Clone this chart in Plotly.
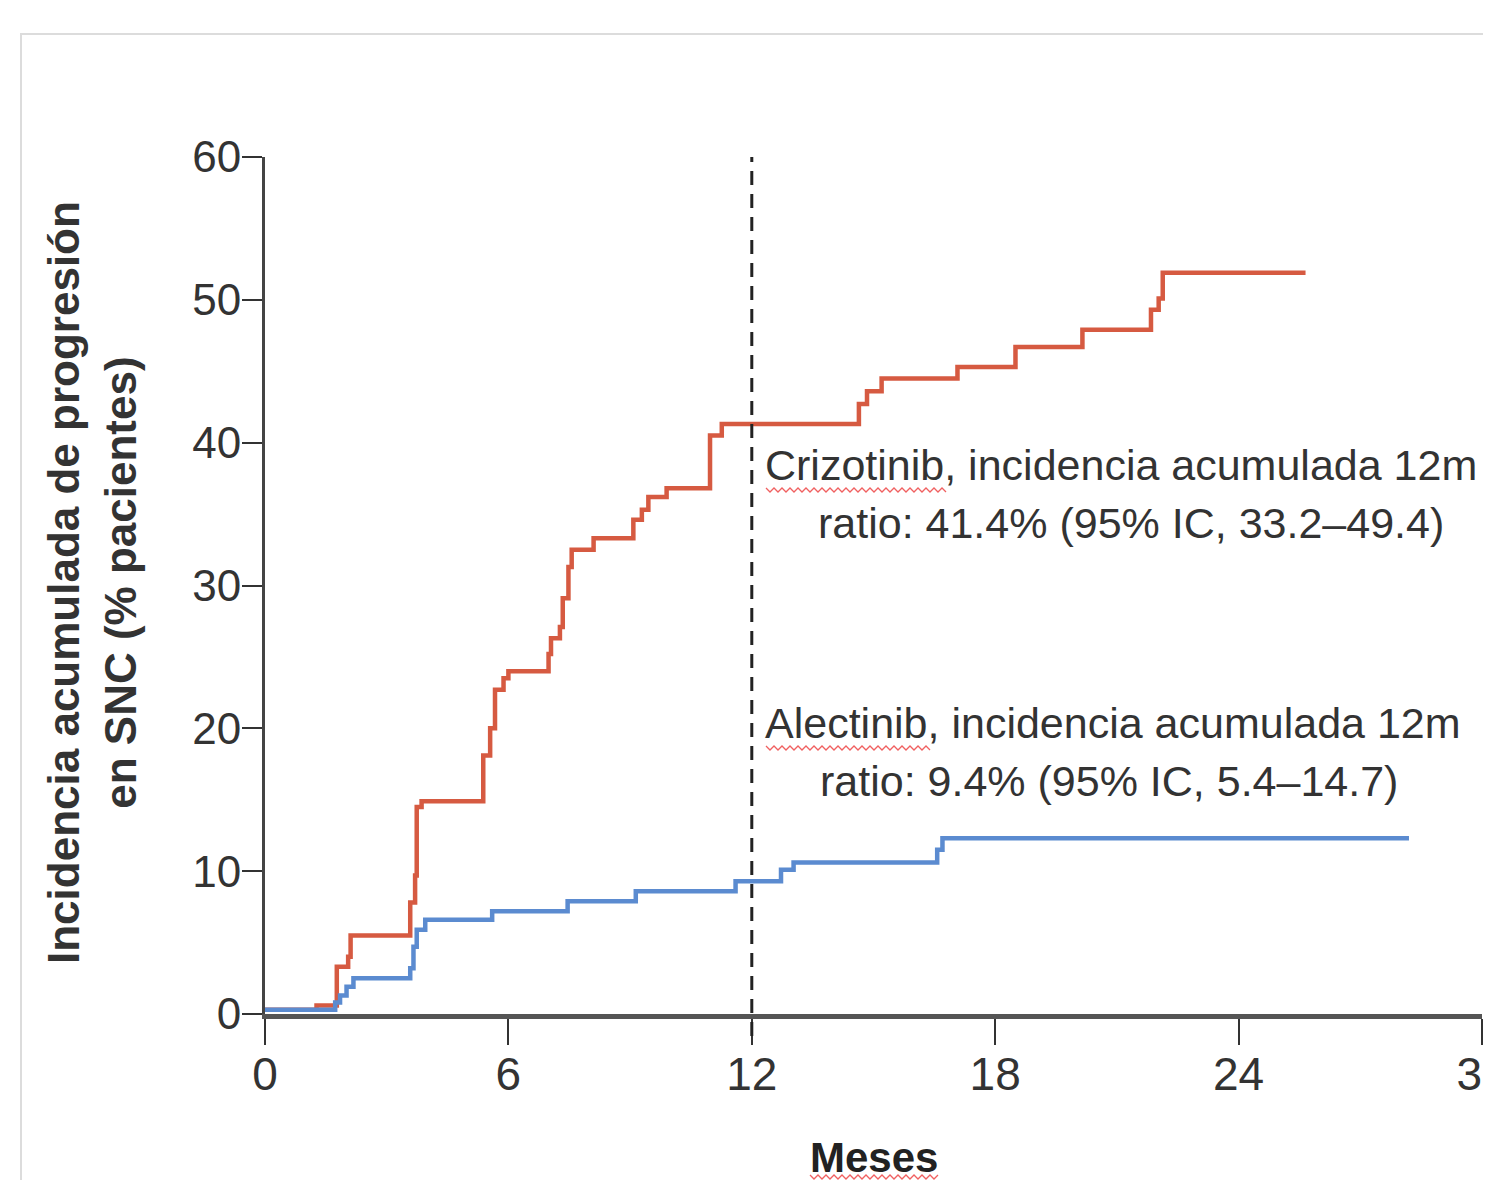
import plotly.graph_objects as go

# ---- data (months, cumulative incidence %) ----
crizo_months = [0, 1.27, 1.77, 2.05, 2.11, 3.58, 3.70, 3.74, 3.86, 5.38, 5.55, 5.67, 5.88, 6.00,
                6.99, 7.05, 7.27, 7.34, 7.48, 7.56, 8.10, 9.08, 9.29, 9.45, 9.90, 10.97, 11.26,
                14.64, 14.84, 15.20, 17.07, 18.50, 20.15, 21.84, 22.03, 22.13, 25.65]
crizo_pct = [0.3, 0.6, 3.3, 4.0, 5.5, 7.8, 9.7, 14.5, 14.9, 18.1, 20.0, 22.7, 23.5, 24.0,
             25.2, 26.3, 27.1, 29.1, 31.3, 32.5, 33.3, 34.6, 35.3, 36.2, 36.8, 40.5, 41.3,
             42.7, 43.6, 44.5, 45.3, 46.7, 47.9, 49.3, 50.1, 51.9, 51.9]

alec_months = [0, 1.73, 1.85, 2.01, 2.18, 3.58, 3.66, 3.74, 3.95, 5.60, 7.46, 9.14, 11.60,
               12.72, 13.03, 16.57, 16.70, 28.20]
alec_pct = [0.3, 0.8, 1.3, 1.9, 2.5, 3.2, 4.7, 5.9, 6.6, 7.2, 7.9, 8.6, 9.3,
            10.1, 10.6, 11.5, 12.3, 12.3]

x_ticks = [0, 6, 12, 18, 24, 30]
y_ticks = [0, 10, 20, 30, 40, 50, 60]
landmark_month = 12

crizo_label_1 = "Crizotinib, incidencia acumulada 12m"
crizo_label_2 = "ratio: 41.4% (95% IC, 33.2\u201349.4)"
alec_label_1 = "Alectinib, incidencia acumulada 12m"
alec_label_2 = "ratio: 9.4% (95% IC, 5.4\u201314.7)"
y_title = "Incidencia acumulada de progresión<br>en SNC (% pacientes)"
x_title = "Meses"

# ---- layout geometry (page pixels; the page body adds an 8px offset) ----
OFF = 8
W, H = 1491, 1180
PLOT_L, PLOT_R, PLOT_T, PLOT_B = 265, 1482, 157, 1014   # page pixel positions
L = PLOT_L - OFF
T = PLOT_T - OFF
R = W - (PLOT_R - OFF)
B = H - (PLOT_B - OFF)
PW = PLOT_R - PLOT_L
PH = PLOT_B - PLOT_T


def px(xp):
    return (xp - PLOT_L) / PW


def py(yp):
    return (PLOT_B - yp) / PH


FONT = "Liberation Sans, Arial, sans-serif"
RED = "#d65a41"
BLUE = "#5b8bd0"
TXT = "#333333"

fig = go.Figure()
fig.add_trace(go.Scatter(x=crizo_months, y=crizo_pct, mode="lines", line_shape="hv",
                         line=dict(color=RED, width=4.5), name="Crizotinib", showlegend=False))
fig.add_trace(go.Scatter(x=alec_months, y=alec_pct, mode="lines", line_shape="hv",
                         line=dict(color=BLUE, width=4.5), name="Alectinib", showlegend=False))

shapes = []
# outer light frame
shapes.append(dict(type="path", xref="paper", yref="paper",
                   path=f"M {px(21)},{py(1230)} L {px(21)},{py(34)} L {px(1530)},{py(34)}",
                   line=dict(color="#dcdcdc", width=2)))
# dashed landmark line
shapes.append(dict(type="line", xref="x", yref="paper", x0=landmark_month, x1=landmark_month,
                   y0=py(1036), y1=1.0, line=dict(color="#222222", width=3, dash="14px,9px")))


def squiggle(x0, x1, yc, amp=2.0, step=4.0):
    pts = []
    x = x0
    up = True
    while x <= x1:
        pts.append((x, yc - amp if up else yc + amp))
        up = not up
        x += step
    d = "M " + " L ".join(f"{px(a)},{py(b)}" for a, b in pts)
    return dict(type="path", xref="paper", yref="paper", path=d,
                line=dict(color="#f06060", width=1.3))


shapes.append(squiggle(766, 948, 490))
shapes.append(squiggle(766, 930, 748))
shapes.append(squiggle(810, 938, 1177))

annotations = []
txt_font = dict(family=FONT, size=43, color=TXT)
annotations.append(dict(x=px(1121), y=py(465), xref="paper", yref="paper", text=crizo_label_1,
                        showarrow=False, font=txt_font, xanchor="center", yanchor="middle"))
annotations.append(dict(x=px(1131), y=py(523), xref="paper", yref="paper", text=crizo_label_2,
                        showarrow=False, font=txt_font, xanchor="center", yanchor="middle"))
annotations.append(dict(x=px(1113), y=py(723), xref="paper", yref="paper", text=alec_label_1,
                        showarrow=False, font=txt_font, xanchor="center", yanchor="middle"))
annotations.append(dict(x=px(1109), y=py(781), xref="paper", yref="paper", text=alec_label_2,
                        showarrow=False, font=txt_font, xanchor="center", yanchor="middle"))
annotations.append(dict(x=px(92), y=py(583), xref="paper", yref="paper", text=y_title,
                        showarrow=False, textangle=-90, xanchor="center", yanchor="middle",
                        font=dict(family=FONT, size=44, color=TXT, weight="bold")))
annotations.append(dict(x=px(874), y=py(1157), xref="paper", yref="paper", text=x_title,
                        showarrow=False, xanchor="center", yanchor="middle",
                        font=dict(family=FONT, size=42, color="#222222", weight="bold")))

fig.update_layout(
    width=W, height=H,
    margin=dict(l=L, r=R, t=T, b=B, autoexpand=False),
    paper_bgcolor="white", plot_bgcolor="white",
    shapes=shapes, annotations=annotations,
    xaxis=dict(range=[0, 30], tickvals=x_ticks, ticktext=[str(v) for v in x_ticks],
               showgrid=False, zeroline=False, showline=True, linecolor="#555555", linewidth=5,
               ticks="outside", ticklen=26, tickwidth=2, tickcolor="#333333",
               ticklabeloverflow="allow", ticklabelstandoff=-10,
               tickfont=dict(family=FONT, size=46, color=TXT)),
    yaxis=dict(range=[0, 60], tickvals=y_ticks, ticktext=[str(v) for v in y_ticks],
               showgrid=False, zeroline=False, showline=True, linecolor="#444444", linewidth=3,
               ticks="outside", ticklen=20, tickwidth=2, tickcolor="#333333",
               ticklabelstandoff=-8,
               tickfont=dict(family=FONT, size=44, color=TXT)),
)

fig.write_html("out.html")
